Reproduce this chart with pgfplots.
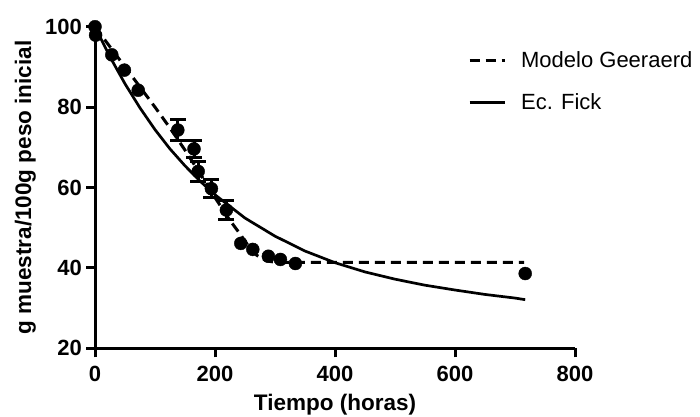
\documentclass[border=0pt]{standalone}
\usepackage{fontspec}
\setmainfont{Liberation Sans}
\usepackage{pgfplots}
\pgfplotsset{compat=1.18}

\pgfplotstableread{
t y
0 100
1 97.9
28 93.0
49 89.2
72 84.2
243 46.1
263 44.6
289 42.9
309 42.1
334 41.1
717 38.6
}\plain

\pgfplotstableread{
t y e
138 74.3 2.6
165 69.6 2.2
172 64.0 2.4
194 59.7 2.3
219 54.4 2.4
}\witherr

\pgfplotstableread{
t y
0 100
25 95.0
50 90.0
75 85.0
100 80.0
125 74.8
150 69.3
175 63.5
200 57.5
225 51.8
240 48.8
255 45.6
270 43.1
285 41.8
300 41.4
715 41.4
}\geeraerd

\pgfplotstableread{
t y
0 100
25 92.5
50 85.8
75 79.8
100 74.4
125 69.6
150 65.4
175 61.6
200 58.2
250 52.4
300 47.9
350 44.2
400 41.3
450 39.0
500 37.2
550 35.7
600 34.5
650 33.4
700 32.5
717 32.1
}\fick

\begin{document}
\begin{tikzpicture}
\path[use as bounding box] (0pt,0pt) rectangle (700pt,-416pt);
\begin{axis}[
  at={(95pt,-348.3pt)}, anchor=south west,
  scale only axis, width=480pt, height=321.6pt,
  xmin=0, xmax=800, ymin=20, ymax=100,
  xtick={0,200,...,800}, ytick={20,40,...,100},
  axis lines=left, axis line style={-, line width=3pt},
  tick align=outside, major tick length=9pt,
  tick style={line width=3pt, black},
  clip=false,
  /pgf/number format/assume math mode=true,
  ticklabel style={font=\fontsize{22}{26}\selectfont\bfseries},
  xticklabel style={inner sep=0pt, yshift=-9pt},
  yticklabel style={inner sep=0pt, xshift=-4pt},
  xlabel={Tiempo (horas)},
  ylabel={g muestra/100g peso inicial},
  label style={font=\fontsize{22.5}{27}\selectfont\bfseries},
  xlabel style={inner sep=0pt, yshift=-12pt},
  ylabel style={inner sep=0pt, yshift=9pt},
  legend style={at={(0.777,0.93)}, anchor=north west, draw=none, fill=none,
    font=\fontsize{22}{27}\selectfont, inner sep=0pt, row sep=21pt},
  legend cell align=left,
  legend image code/.code={\draw[#1, line width=3pt] (0pt,0pt) -- (35pt,0pt);},
]
\addplot[black, line width=3pt, dash pattern=on 10pt off 6pt] table[x=t,y=y] {\geeraerd};
\addlegendentry{\hspace{13pt}Modelo Geeraerd}
\addplot[black, line width=2.7pt] table[x=t,y=y] {\fick};
\addlegendentry{\hspace{13pt}Ec. Fick}
\addplot[only marks, mark=*, mark size=6.5pt, black, forget plot,
  error bars/.cd, y dir=both, y explicit,
  error bar style={line width=3pt},
  error mark options={rotate=90, mark size=8pt, line width=3pt}]
  table[x=t,y=y,y error=e] {\witherr};
\addplot[only marks, mark=*, mark size=6.5pt, black, forget plot] table[x=t,y=y] {\plain};
\end{axis}
\end{tikzpicture}
\end{document}
